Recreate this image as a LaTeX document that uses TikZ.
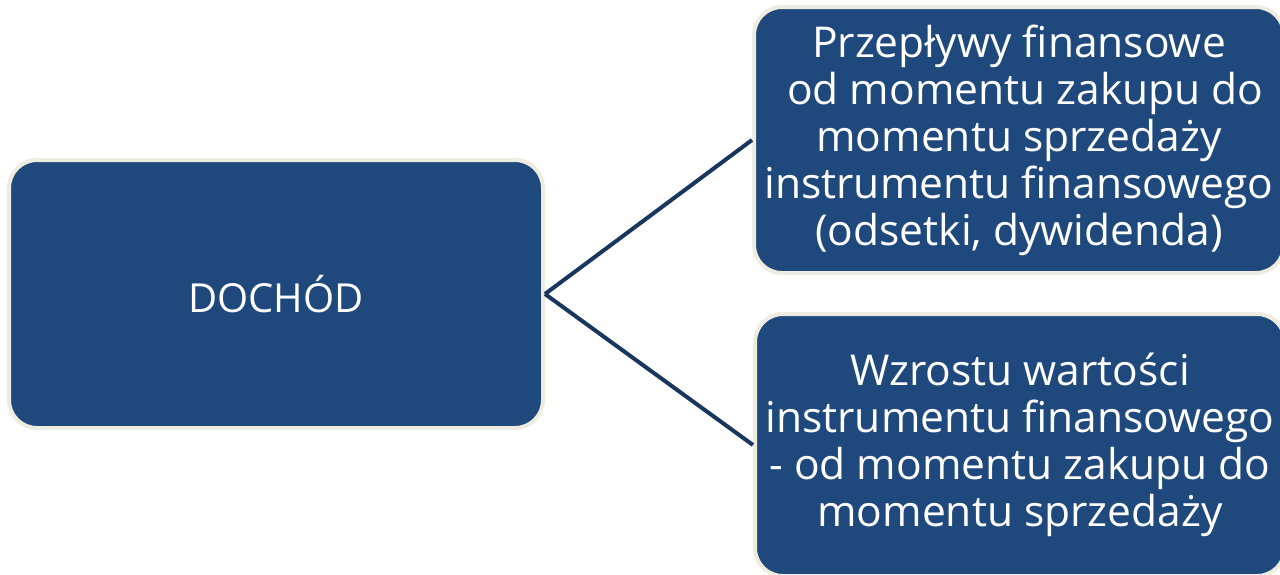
\documentclass[tikz,border=0pt]{standalone}
\usepackage{fontspec}
\setmainfont{Open Sans}
\definecolor{boxfill}{HTML}{1F497D}
\definecolor{boxedge}{HTML}{EEECE1}
\definecolor{linkcol}{HTML}{17375E}
\begin{document}
\begin{tikzpicture}[x=1pt,y=-1pt,
  box/.style={rectangle, rounded corners=28pt, fill=boxfill, draw=boxedge, line width=4pt,
    text=white, align=center, inner sep=0pt,
    font=\fontsize{40}{47}\selectfont},
  bigtext/.style={font=\fontsize{42.5}{47}\selectfont},
  link/.style={draw=linkcol, line width=4pt}]
\useasboundingbox (0,0) rectangle (1280,574);
\node[box, minimum width=534pt, minimum height=268pt] (doch) at (276,294) {DOCHÓD};
\node[box, bigtext, minimum width=530pt, minimum height=266pt] (flows) at (1019,140)
  {Przepływy finansowe\\ \hspace*{0.3em}od momentu zakupu do\\momentu sprzedaży\\instrumentu finansowego\\(odsetki, dywidenda)};
\node[box, bigtext, minimum width=530pt, minimum height=262pt] (growth) at (1020,445)
  {Wzrostu wartości\\instrumentu finansowego\\- od momentu zakupu do\\momentu sprzedaży};
\draw[link] (doch.east) -- (flows.west);
\draw[link] (doch.east) -- (growth.west);
\end{tikzpicture}
\end{document}
